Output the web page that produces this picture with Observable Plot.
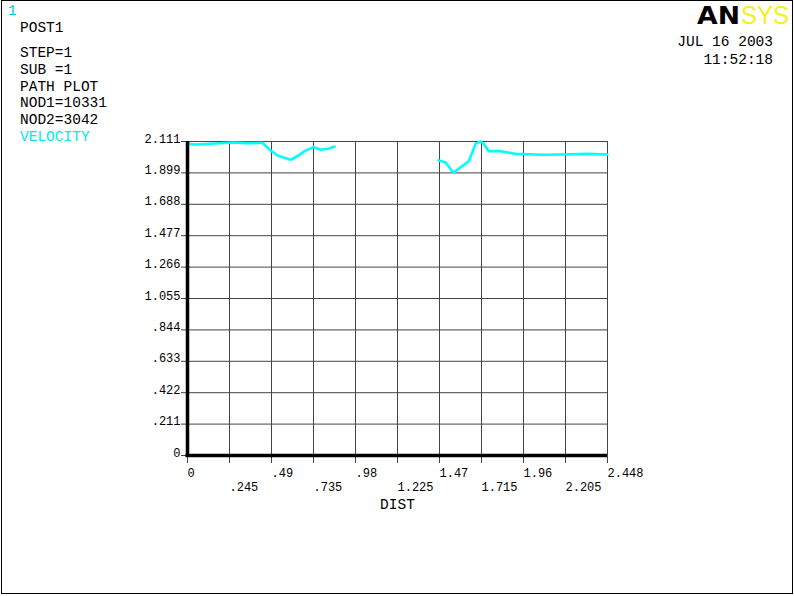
<!DOCTYPE html>
<html>
<head>
<meta charset="utf-8">
<script src="https://cdn.jsdelivr.net/npm/d3@7"></script>
<script src="https://cdn.jsdelivr.net/npm/@observablehq/plot@0.6"></script>
<style>
  html, body { margin: 0; padding: 0; background: #fff; }
  svg { display: block; }
</style>
</head>
<body>
<div id="chart"></div>
<script>
// Tick values and labels
const xTicks = [0, 0.2448, 0.4896, 0.7344, 0.9792, 1.224, 1.4688, 1.7136, 1.9584, 2.2032, 2.448];
const xTickLabels = ["0", ".245", ".49", ".735", ".98", "1.225", "1.47", "1.715", "1.96", "2.205", "2.448"];
const yTicks = [0, 0.2111, 0.4222, 0.6333, 0.8444, 1.0555, 1.2666, 1.4777, 1.6888, 1.8999, 2.111];
const yTickLabels = ["0", ".211", ".422", ".633", ".844", "1.055", "1.266", "1.477", "1.688", "1.899", "2.111"];

// VELOCITY along path (two separate segments)
const dist1 = [0, 0.047, 0.268, 0.350, 0.437, 0.484, 0.525, 0.600, 0.630, 0.688, 0.735, 0.775, 0.822, 0.857];
const vel1  = [2.095, 2.091, 2.104, 2.100, 2.102, 2.050, 2.017, 1.988, 2.005, 2.050, 2.073, 2.055, 2.062, 2.077];
const dist2 = [1.463, 1.504, 1.549, 1.640, 1.679, 1.708, 1.727, 1.756, 1.825, 1.912, 2.077, 2.176, 2.331, 2.448];
const vel2  = [1.984, 1.972, 1.901, 1.979, 2.096, 2.111, 2.096, 2.046, 2.046, 2.028, 2.022, 2.024, 2.028, 2.024];

const headerLines = ["POST1", "STEP=1", "SUB =1", "PATH PLOT", "NOD1=10331", "NOD2=3042"];
const seriesName = "VELOCITY";
const xAxisTitle = "DIST";
const dateText = "JUL 16 2003";
const timeText = "11:52:18";
const windowNum = "1";

const data = [
  ...dist1.map((d, i) => ({dist: d, vel: vel1[i], seg: 1})),
  ...dist2.map((d, i) => ({dist: d, vel: vel2[i], seg: 2}))
];
const xt = xTicks.map((v, i) => ({v, label: xTickLabels[i], row: i % 2}));
const yt = yTicks.map((v, i) => ({v, label: yTickLabels[i]}));

const mono = "'Liberation Mono', 'DejaVu Sans Mono', monospace";
const grid = "#444";

const plot = Plot.plot({
  width: 794,
  height: 596,
  marginLeft: 187,
  marginRight: 187,
  marginTop: 141,
  marginBottom: 141,
  style: {fontFamily: mono, fontSize: "12px", background: "#fff", overflow: "visible"},
  x: {domain: [0, 2.448], axis: null},
  y: {domain: [0, 2.111], axis: null},
  marks: [
    Plot.ruleX(xTicks, {stroke: grid, strokeWidth: 1, insetBottom: -8}),
    Plot.ruleY(yTicks, {stroke: grid, strokeWidth: 1, insetLeft: -6}),
    Plot.line(data, {x: "dist", y: "vel", z: "seg", stroke: "#00ffff", strokeWidth: 2.6, strokeLinejoin: "round"}),
    Plot.ruleX([0], {stroke: "#000", strokeWidth: 3.5, insetBottom: -1.5}),
    Plot.ruleY([0], {stroke: "#000", strokeWidth: 3.5, insetLeft: -1.5}),
    Plot.text(xt.filter(d => d.row === 0), {x: "v", text: "label", frameAnchor: "bottom", textAnchor: "start", lineAnchor: "bottom", dy: 21, fill: "#000"}),
    Plot.text(xt.filter(d => d.row === 1), {x: "v", text: "label", frameAnchor: "bottom", textAnchor: "start", lineAnchor: "bottom", dy: 35, fill: "#000"}),
    Plot.text(yt, {y: "v", text: "label", frameAnchor: "left", textAnchor: "end", lineAnchor: "bottom", dx: -7, dy: 1, fill: "#000"}),
    Plot.text([xAxisTitle], {frameAnchor: "bottom", lineAnchor: "bottom", dy: 53, fontSize: 14.5, fill: "#000"})
  ]
});

document.getElementById("chart").appendChild(plot);

const svg = d3.select(plot);
// outer border
svg.append("rect").attr("x", 1.5).attr("y", 0.5).attr("width", 791).attr("height", 593)
  .attr("fill", "none").attr("stroke", "#000").attr("stroke-width", 1);

const g = svg.append("g").attr("font-family", mono).attr("font-size", "14.5px").attr("text-anchor", "start");
g.append("text").attr("x", 8).attr("y", 15).attr("fill", "#00c8e0").text(windowNum);
const ys = [32, 57, 74, 91, 107, 124];
headerLines.forEach((t, i) => g.append("text").attr("x", 20).attr("y", ys[i]).attr("fill", "#000").text(t));
g.append("text").attr("x", 20).attr("y", 141).attr("fill", "#00e8f0").text(seriesName);
g.append("text").attr("x", 773).attr("y", 46).attr("text-anchor", "end").attr("fill", "#000").text(dateText);
g.append("text").attr("x", 773).attr("y", 64).attr("text-anchor", "end").attr("fill", "#000").text(timeText);

// logo
const logo = svg.append("g").attr("text-anchor", "start");
logo.append("text").attr("x", 697).attr("y", 24).attr("font-family", "'DejaVu Sans', sans-serif")
  .attr("font-weight", "bold").attr("font-size", "25px").attr("textLength", 43).attr("lengthAdjust", "spacingAndGlyphs")
  .attr("fill", "#000").text("AN");
logo.append("text").attr("x", 741).attr("y", 24).attr("font-family", "'Liberation Sans', sans-serif")
  .attr("font-size", "25px").attr("textLength", 48).attr("lengthAdjust", "spacingAndGlyphs")
  .attr("fill", "#f4f020").text("SYS");
</script>
</body>
</html>
